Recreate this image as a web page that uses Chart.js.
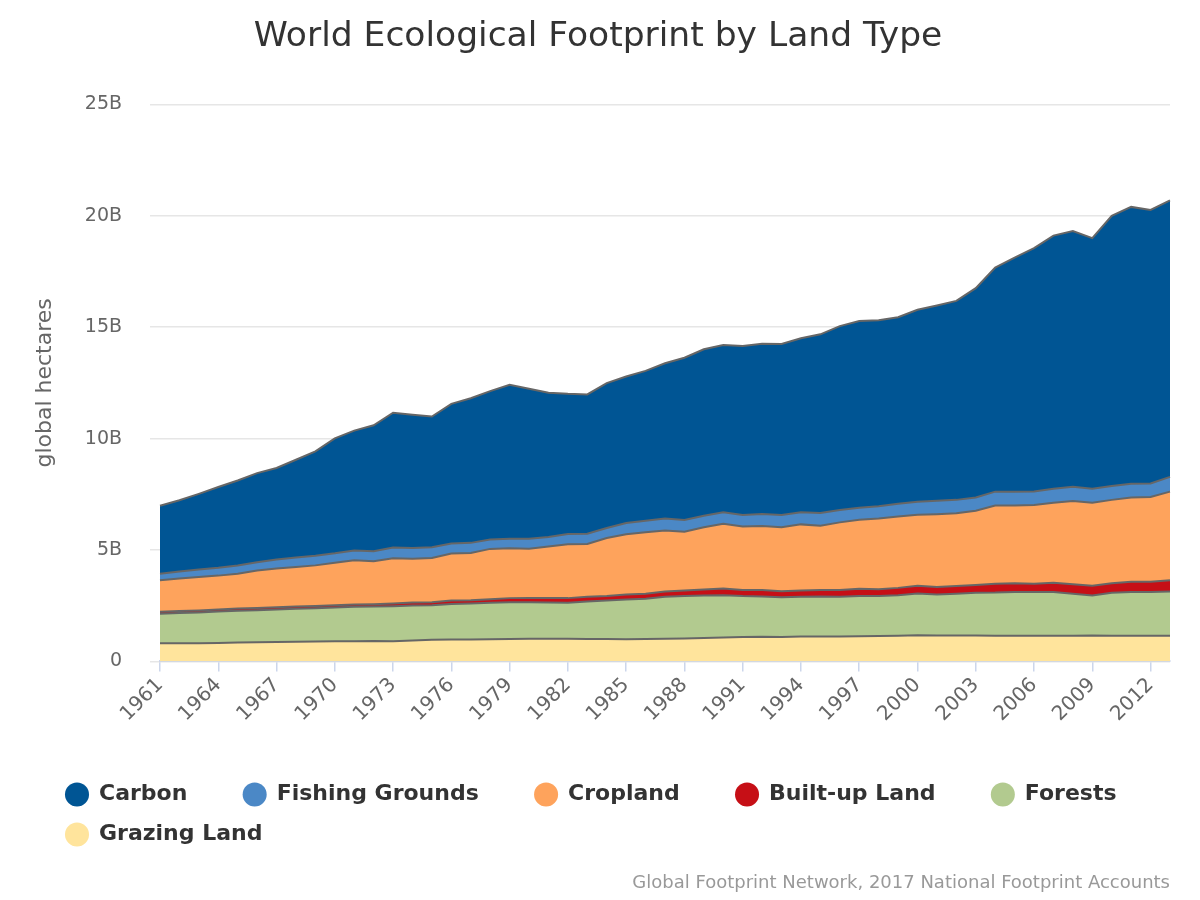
<!DOCTYPE html>
<html>
<head>
<meta charset="utf-8">
<title>World Ecological Footprint by Land Type</title>
<script src="https://cdn.jsdelivr.net/npm/chart.js@4.4.1/dist/chart.umd.min.js"></script>
<style>
  html, body { margin: 0; padding: 0; background: #fff; }
  #wrap { width: 1200px; height: 900px; position: relative; }
</style>
</head>
<body>
<div id="wrap"><canvas id="footprint"></canvas></div>
<script>
// values in billions of global hectares
var years = [
  '1961','1962','1963','1964','1965','1966','1967','1968','1969','1970',
  '1971','1972','1973','1974','1975','1976','1977','1978','1979','1980',
  '1981','1982','1983','1984','1985','1986','1987','1988','1989','1990',
  '1991','1992','1993','1994','1995','1996','1997','1998','1999','2000',
  '2001','2002','2003','2004','2005','2006','2007','2008','2009','2010',
  '2011','2012','2013'
];

var grazing = [
  0.81, 0.82, 0.82, 0.83, 0.85, 0.86, 0.87, 0.88, 0.89, 0.90,
  0.91, 0.92, 0.91, 0.94, 0.97, 0.98, 0.98, 0.99, 1.00, 1.02,
  1.02, 1.02, 1.01, 1.00, 0.99, 1.01, 1.02, 1.03, 1.05, 1.07,
  1.10, 1.11, 1.10, 1.12, 1.12, 1.12, 1.13, 1.14, 1.15, 1.17,
  1.16, 1.16, 1.16, 1.15, 1.15, 1.15, 1.15, 1.15, 1.16, 1.15,
  1.15, 1.15, 1.15
];
var forests = [
  1.33, 1.35, 1.38, 1.41, 1.42, 1.44, 1.46, 1.48, 1.50, 1.52,
  1.54, 1.54, 1.57, 1.57, 1.55, 1.60, 1.62, 1.64, 1.66, 1.64,
  1.62, 1.61, 1.68, 1.73, 1.79, 1.80, 1.88, 1.90, 1.91, 1.90,
  1.83, 1.80, 1.78, 1.78, 1.79, 1.78, 1.80, 1.79, 1.82, 1.88,
  1.84, 1.88, 1.92, 1.94, 1.97, 1.96, 1.97, 1.89, 1.80, 1.93,
  1.96, 1.96, 1.99
];
var builtUp = [
  0.09, 0.09, 0.09, 0.09, 0.10, 0.10, 0.10, 0.10, 0.10, 0.10,
  0.10, 0.11, 0.12, 0.13, 0.14, 0.15, 0.15, 0.16, 0.18, 0.19,
  0.20, 0.21, 0.21, 0.21, 0.22, 0.23, 0.24, 0.25, 0.27, 0.30,
  0.28, 0.29, 0.27, 0.28, 0.30, 0.30, 0.33, 0.31, 0.33, 0.35,
  0.34, 0.34, 0.35, 0.39, 0.39, 0.38, 0.41, 0.42, 0.44, 0.43,
  0.46, 0.46, 0.50
];
var cropland = [
  1.41, 1.46, 1.50, 1.52, 1.56, 1.68, 1.74, 1.78, 1.82, 1.91,
  1.99, 1.93, 2.03, 1.97, 1.98, 2.11, 2.12, 2.26, 2.24, 2.21,
  2.32, 2.42, 2.37, 2.60, 2.71, 2.76, 2.74, 2.64, 2.79, 2.91,
  2.85, 2.88, 2.87, 2.97, 2.88, 3.04, 3.10, 3.17, 3.20, 3.18,
  3.27, 3.27, 3.33, 3.52, 3.49, 3.53, 3.59, 3.74, 3.72, 3.74,
  3.79, 3.81, 3.98
];
var fishing = [
  0.29, 0.32, 0.34, 0.35, 0.37, 0.37, 0.40, 0.42, 0.43, 0.42,
  0.44, 0.44, 0.48, 0.48, 0.48, 0.45, 0.45, 0.42, 0.43, 0.45,
  0.42, 0.46, 0.46, 0.45, 0.50, 0.51, 0.53, 0.53, 0.52, 0.51,
  0.51, 0.54, 0.55, 0.54, 0.57, 0.56, 0.54, 0.55, 0.58, 0.59,
  0.60, 0.60, 0.60, 0.62, 0.62, 0.61, 0.63, 0.64, 0.63, 0.62,
  0.61, 0.61, 0.66
];
var carbon = [
  3.06, 3.19, 3.39, 3.63, 3.82, 4.00, 4.11, 4.39, 4.69, 5.16,
  5.38, 5.66, 6.05, 5.98, 5.87, 6.27, 6.49, 6.66, 6.91, 6.73,
  6.48, 6.29, 6.25, 6.50, 6.58, 6.73, 6.97, 7.28, 7.47, 7.51,
  7.59, 7.64, 7.68, 7.81, 8.02, 8.25, 8.38, 8.35, 8.37, 8.61,
  8.76, 8.93, 9.39, 10.06, 10.50, 10.92, 11.36, 11.48, 11.25, 12.13,
  12.43, 12.27, 12.41
];

var yTicks = [0, 5, 25]; // min, step, max (billions)

Chart.defaults.font.family = '"DejaVu Sans", sans-serif';
Chart.defaults.color = '#666666';

function area(label, values, color, fill) {
  return {
    label: label,
    data: values,
    backgroundColor: color,
    borderColor: '#666666',
    borderWidth: 2,
    pointRadius: 0,
    pointHoverRadius: 0,
    tension: 0,
    fill: fill
  };
}

var ctx = document.getElementById('footprint');
var chart = new Chart(ctx, {
  type: 'line',
  data: {
    labels: years,
    // bottom of the stack first
    datasets: [
      area('Grazing Land', grazing, '#ffe49c', 'origin'),
      area('Forests', forests, '#b2ca8f', '-1'),
      area('Built-up Land', builtUp, '#c60f16', '-1'),
      area('Cropland', cropland, '#fea35c', '-1'),
      area('Fishing Grounds', fishing, '#4b88c6', '-1'),
      area('Carbon', carbon, '#005594', '-1')
    ]
  },
  options: {
    responsive: true,
    maintainAspectRatio: false,
    animation: false,
    layout: { padding: { left: 48, right: 30, top: 0, bottom: 0 } },
    interaction: { mode: 'index', intersect: false },
    plugins: {
      title: {
        display: true,
        // trailing spaces pull the centre back to the middle of the page
        text: 'World Ecological Footprint by Land Type  ',
        color: '#333333',
        font: { size: 34.5, weight: 'normal' },
        padding: { top: 16, bottom: 47 }
      },
      subtitle: {
        display: true,
        position: 'bottom',
        align: 'end',
        text: 'Global Footprint Network, 2017 National Footprint Accounts',
        color: '#999999',
        font: { size: 18 },
        padding: { top: 17, bottom: 6 }
      },
      legend: {
        position: 'bottom',
        align: 'start',
        reverse: true,
        labels: {
          usePointStyle: true,
          pointStyle: 'circle',
          boxWidth: 22,
          boxHeight: 17,
          padding: 18,
          color: '#333333',
          font: { size: 22, weight: 'bold' },
          generateLabels: function (c) {
            var items = Chart.defaults.plugins.legend.labels.generateLabels(c);
            items.forEach(function (it) {
              it.lineWidth = 0;
              it.strokeStyle = it.fillStyle;
              // keep the wide Highcharts-like gap between items
              if (it.text !== 'Forests' && it.text !== 'Grazing Land') it.text = it.text + '     ';
            });
            return items;
          }
        }
      },
      tooltip: { enabled: false }
    },
    scales: {
      x: {
        afterFit: function (s) { s.height = 104; },
        grid: {
          drawOnChartArea: false,
          color: '#ccd6eb',
          tickLength: 10,
          lineWidth: 1.5
        },
        border: { color: '#ccd6eb', width: 2 },
        ticks: {
          autoSkip: false,
          maxRotation: 45,
          minRotation: 45,
          padding: 2,
          color: '#666666',
          font: { size: 20 },
          callback: function (v, i) {
            return i % 3 === 0 ? years[i] : null;
          }
        }
      },
      y: {
        stacked: true,
        min: yTicks[0],
        max: yTicks[2],
        afterFit: function (s) { s.width = 112; },
        grid: { color: '#e6e6e6', lineWidth: 1.5, tickLength: 10 },
        border: { display: false },
        ticks: {
          stepSize: yTicks[1],
          padding: 28,
          color: '#666666',
          font: { size: 19 },
          callback: function (v) { return v === 0 ? '0' : v + 'B'; }
        },
        title: {
          display: true,
          text: 'global hectares',
          color: '#666666',
          font: { size: 22 },
          padding: { top: -16, bottom: 4 }
        }
      }
    }
  }
});
</script>
</body>
</html>
